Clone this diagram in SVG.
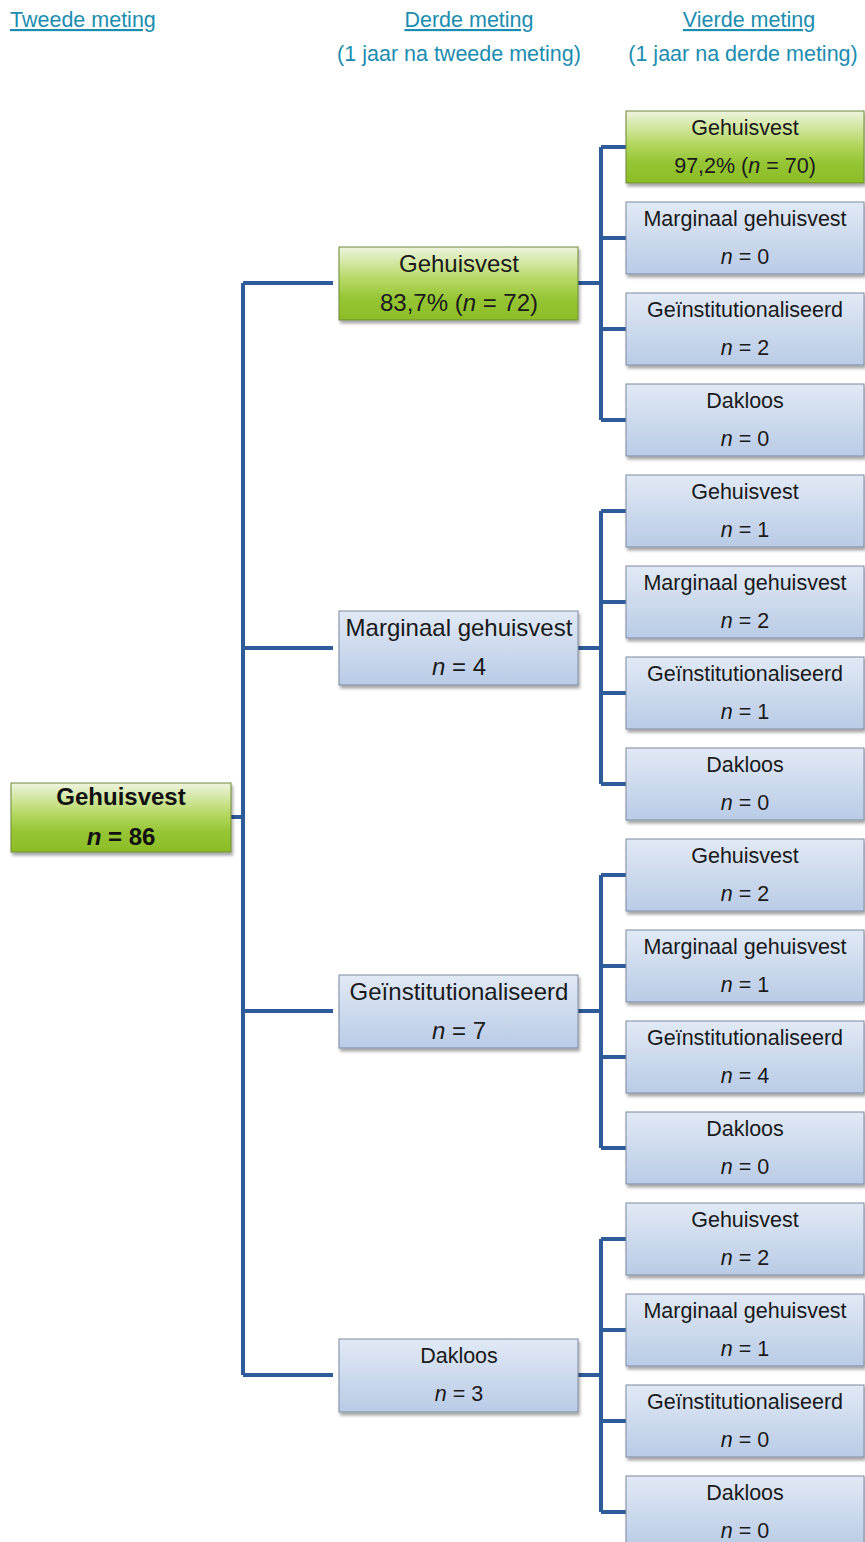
<svg xmlns="http://www.w3.org/2000/svg" width="865" height="1542" viewBox="0 0 865 1542">
<defs>
<linearGradient id="gGreen" x1="0" y1="0" x2="0" y2="1">
<stop offset="0" stop-color="#eef4de"/>
<stop offset="0.45" stop-color="#b5d862"/>
<stop offset="0.7" stop-color="#96c535"/>
<stop offset="1" stop-color="#8cbd25"/>
</linearGradient>
<linearGradient id="gBlue" x1="0" y1="0" x2="0" y2="1">
<stop offset="0" stop-color="#e1e9f5"/>
<stop offset="1" stop-color="#b9cbe6"/>
</linearGradient>
<filter id="sh" x="-10%" y="-10%" width="125%" height="140%">
<feDropShadow dx="1.5" dy="3" stdDeviation="1.5" flood-color="#000" flood-opacity="0.35"/>
</filter>
</defs>
<style>
.hd{font-family:"Liberation Sans",Arial,sans-serif;font-size:21.5px;fill:#1b8db0;}
.u{text-decoration:underline;}
.g{fill:url(#gGreen);stroke:#6f8a3a;stroke-width:1;filter:url(#sh);}
.b{fill:url(#gBlue);stroke:#7d8aa0;stroke-width:1;filter:url(#sh);}
.t{font-family:"Liberation Sans",Arial,sans-serif;font-size:21.5px;fill:#1a1a1a;text-anchor:middle;}
.tm{font-family:"Liberation Sans",Arial,sans-serif;font-size:24px;fill:#1a1a1a;text-anchor:middle;}
.rt{font-family:"Liberation Sans",Arial,sans-serif;font-size:24px;font-weight:bold;fill:#111;text-anchor:middle;}
.i{font-style:italic;}
.c{fill:none;stroke:#2e5b9a;stroke-width:4;}
</style>

<g id="headers">
<text class="hd u" x="10" y="27">Tweede meting</text>
<text class="hd u" x="469" y="27" text-anchor="middle">Derde meting</text>
<text class="hd u" x="749" y="27" text-anchor="middle">Vierde meting</text>
<text class="hd" x="459" y="61" text-anchor="middle">(1 jaar na tweede meting)</text>
<text class="hd" x="743" y="61" text-anchor="middle">(1 jaar na derde meting)</text>
</g>

<g id="connectors">
<path class="c" d="M231,817 H243 M243,283 V1375 M243,283 H333 M243,648 H333 M243,1011 H333 M243,1375 H333"/>
<path class="c" d="M578,283 H601 M601,147 V420 M601,147 H626 M601,238 H626 M601,329 H626 M601,420 H626"/>
<path class="c" d="M578,648 H601 M601,511 V784 M601,511 H626 M601,602 H626 M601,693 H626 M601,784 H626"/>
<path class="c" d="M578,1011 H601 M601,875 V1148 M601,875 H626 M601,966 H626 M601,1057 H626 M601,1148 H626"/>
<path class="c" d="M578,1375 H601 M601,1239 V1512 M601,1239 H626 M601,1330 H626 M601,1421 H626 M601,1512 H626"/>
</g>

<g id="root">
<rect class="g" x="11" y="783" width="220" height="69"/>
<text class="rt" x="121" y="805">Gehuisvest</text>
<text class="rt" x="121" y="845"><tspan class="i">n</tspan> = 86</text>
</g>

<g id="m1">
<rect class="g" x="339" y="247" width="239" height="73"/>
<text class="tm" x="459" y="272">Gehuisvest</text>
<text class="tm" x="459" y="311">83,7% (<tspan class="i">n</tspan> = 72)</text>
</g>
<g id="m2">
<rect class="b" x="339" y="611" width="239" height="74"/>
<text class="tm" x="459" y="636">Marginaal gehuisvest</text>
<text class="tm" x="459" y="675"><tspan class="i">n</tspan> = 4</text>
</g>
<g id="m3">
<rect class="b" x="339" y="975" width="239" height="73"/>
<text class="tm" x="459" y="1000">Geïnstitutionaliseerd</text>
<text class="tm" x="459" y="1039"><tspan class="i">n</tspan> = 7</text>
</g>
<g id="m4">
<rect class="b" x="339" y="1339" width="239" height="73"/>
<text class="t" x="459" y="1363">Dakloos</text>
<text class="t" x="459" y="1401"><tspan class="i">n</tspan> = 3</text>
</g>

<g id="l1a"><rect class="g" x="626" y="111" width="238" height="72"/><text class="t" x="745" y="135">Gehuisvest</text><text class="t" x="745" y="173">97,2% (<tspan class="i">n</tspan> = 70)</text></g>
<g id="l1b"><rect class="b" x="626" y="202" width="238" height="72"/><text class="t" x="745" y="226">Marginaal gehuisvest</text><text class="t" x="745" y="264"><tspan class="i">n</tspan> = 0</text></g>
<g id="l1c"><rect class="b" x="626" y="293" width="238" height="72"/><text class="t" x="745" y="317">Geïnstitutionaliseerd</text><text class="t" x="745" y="355"><tspan class="i">n</tspan> = 2</text></g>
<g id="l1d"><rect class="b" x="626" y="384" width="238" height="72"/><text class="t" x="745" y="408">Dakloos</text><text class="t" x="745" y="446"><tspan class="i">n</tspan> = 0</text></g>

<g id="l2a"><rect class="b" x="626" y="475" width="238" height="72"/><text class="t" x="745" y="499">Gehuisvest</text><text class="t" x="745" y="537"><tspan class="i">n</tspan> = 1</text></g>
<g id="l2b"><rect class="b" x="626" y="566" width="238" height="72"/><text class="t" x="745" y="590">Marginaal gehuisvest</text><text class="t" x="745" y="628"><tspan class="i">n</tspan> = 2</text></g>
<g id="l2c"><rect class="b" x="626" y="657" width="238" height="72"/><text class="t" x="745" y="681">Geïnstitutionaliseerd</text><text class="t" x="745" y="719"><tspan class="i">n</tspan> = 1</text></g>
<g id="l2d"><rect class="b" x="626" y="748" width="238" height="72"/><text class="t" x="745" y="772">Dakloos</text><text class="t" x="745" y="810"><tspan class="i">n</tspan> = 0</text></g>

<g id="l3a"><rect class="b" x="626" y="839" width="238" height="72"/><text class="t" x="745" y="863">Gehuisvest</text><text class="t" x="745" y="901"><tspan class="i">n</tspan> = 2</text></g>
<g id="l3b"><rect class="b" x="626" y="930" width="238" height="72"/><text class="t" x="745" y="954">Marginaal gehuisvest</text><text class="t" x="745" y="992"><tspan class="i">n</tspan> = 1</text></g>
<g id="l3c"><rect class="b" x="626" y="1021" width="238" height="72"/><text class="t" x="745" y="1045">Geïnstitutionaliseerd</text><text class="t" x="745" y="1083"><tspan class="i">n</tspan> = 4</text></g>
<g id="l3d"><rect class="b" x="626" y="1112" width="238" height="72"/><text class="t" x="745" y="1136">Dakloos</text><text class="t" x="745" y="1174"><tspan class="i">n</tspan> = 0</text></g>

<g id="l4a"><rect class="b" x="626" y="1203" width="238" height="72"/><text class="t" x="745" y="1227">Gehuisvest</text><text class="t" x="745" y="1265"><tspan class="i">n</tspan> = 2</text></g>
<g id="l4b"><rect class="b" x="626" y="1294" width="238" height="72"/><text class="t" x="745" y="1318">Marginaal gehuisvest</text><text class="t" x="745" y="1356"><tspan class="i">n</tspan> = 1</text></g>
<g id="l4c"><rect class="b" x="626" y="1385" width="238" height="72"/><text class="t" x="745" y="1409">Geïnstitutionaliseerd</text><text class="t" x="745" y="1447"><tspan class="i">n</tspan> = 0</text></g>
<g id="l4d"><rect class="b" x="626" y="1476" width="238" height="72"/><text class="t" x="745" y="1500">Dakloos</text><text class="t" x="745" y="1538"><tspan class="i">n</tspan> = 0</text></g>
</svg>
